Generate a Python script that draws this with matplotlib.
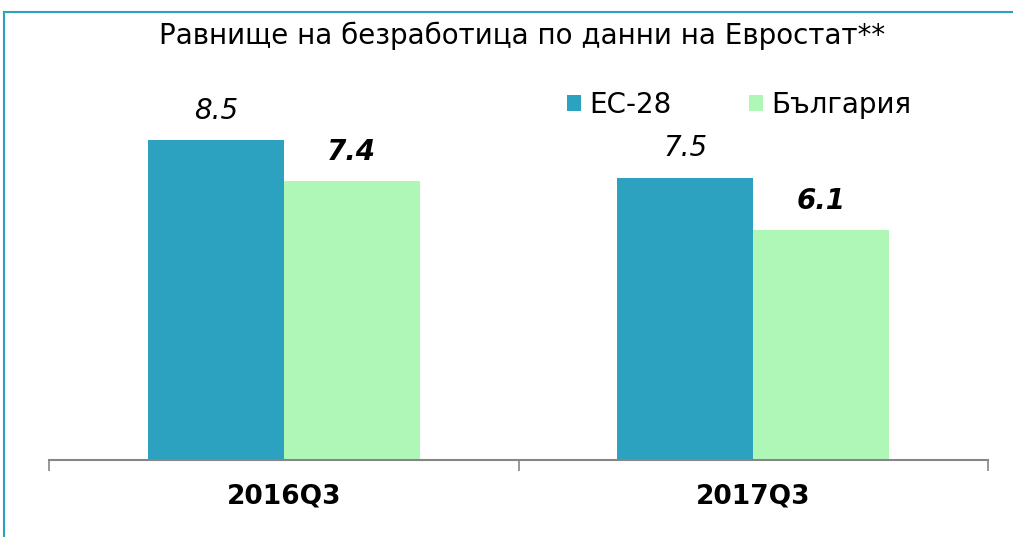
import numpy as np
import matplotlib.pyplot as plt
from matplotlib.lines import Line2D

categories = ['2016Q3', '2017Q3']
series_names = ['ЕС-28', 'България']
eu28 = [8.5, 7.5]
bulgaria = [7.4, 6.1]
colors = ['#2CA2C0', '#AEF7B7']

fig = plt.figure(figsize=(10.13, 5.37), dpi=100)
ax = fig.add_axes([49 / 1013, 77 / 537, 939 / 1013, 400 / 537])

x = np.arange(len(categories))
w = 0.29
b1 = ax.bar(x - w / 2, eu28, w, color=colors[0], label=series_names[0])
b2 = ax.bar(x + w / 2, bulgaria, w, color=colors[1], label=series_names[1])

# подписи над стълбовете
for rect, v in zip(b1, eu28):
    ax.annotate(f'{v:.1f}', (rect.get_x() + rect.get_width() / 2, v),
                xytext=(0, 11), textcoords='offset points', ha='center', va='bottom',
                fontsize=20, style='italic')
for rect, v in zip(b2, bulgaria):
    ax.annotate(f'{v:.1f}', (rect.get_x() + rect.get_width() / 2, v),
                xytext=(0, 11), textcoords='offset points', ha='center', va='bottom',
                fontsize=20, style='italic', fontweight='bold')

ax.set_xlim(-0.5, len(categories) - 0.5)
ax.set_ylim(0, 400 / 37.65)

for s in ['top', 'right', 'left']:
    ax.spines[s].set_visible(False)
ax.spines['bottom'].set_color('#868686')
ax.spines['bottom'].set_linewidth(1.5)
ax.set_yticks([])

ax.set_xticks([-0.5, 0.5, 1.5])
ax.set_xticklabels([])
ax.tick_params(axis='x', which='major', direction='out', length=8, color='#868686', width=1.2)
ax.set_xticks(x, minor=True)
ax.set_xticklabels(categories, minor=True, fontsize=19, fontweight='bold')
ax.tick_params(axis='x', which='minor', length=0, pad=17)

fig.legend(handles=[b1, b2], labels=series_names, loc='center left',
           bbox_to_anchor=(567 / 1013, 1 - 105 / 537), ncol=2, frameon=False,
           fontsize=20, handlelength=0.5, handleheight=0.5, handletextpad=0.3,
           columnspacing=2.8, borderpad=0, borderaxespad=0)

fig.text(522 / 1013, 1 - 36 / 537, 'Равнище на безработица по данни на Евростат**',
         ha='center', va='center', fontsize=20)

# рамка
fig.add_artist(Line2D([4 / 1013, 1], [1 - 12 / 537, 1 - 12 / 537], color='#2CA2C0', lw=1.5))
fig.add_artist(Line2D([4 / 1013, 4 / 1013], [0, 1 - 12 / 537], color='#2CA2C0', lw=1.5))

fig.savefig('out.png', dpi=100)
